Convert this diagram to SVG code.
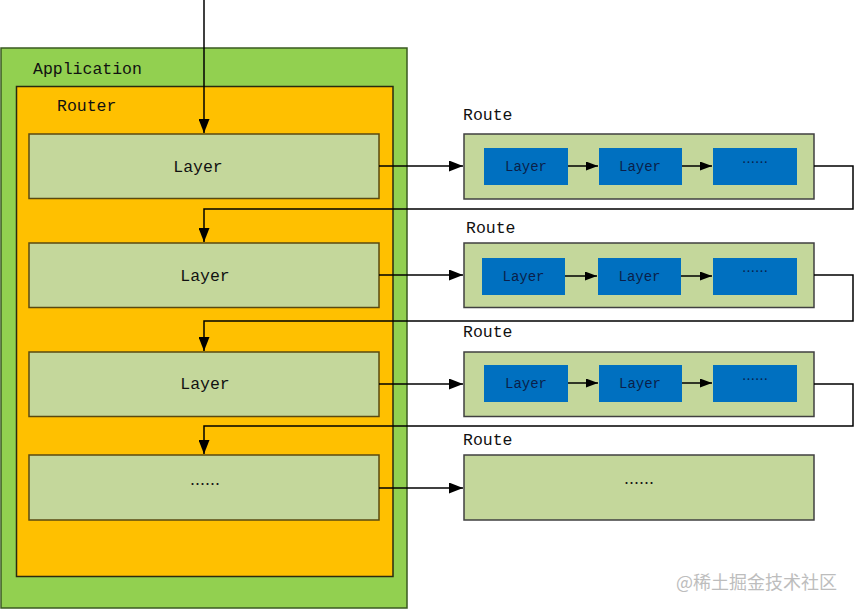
<svg xmlns="http://www.w3.org/2000/svg" width="855" height="610" viewBox="0 0 855 610">
<defs>
<marker id="ah" markerWidth="14" markerHeight="11" refX="14" refY="5.5" orient="auto" markerUnits="userSpaceOnUse">
<path d="M0,0 L14,5.5 L0,11 Z" fill="#000"/>
</marker>
<marker id="ahs" markerWidth="12" markerHeight="9" refX="12" refY="4.5" orient="auto" markerUnits="userSpaceOnUse">
<path d="M0,0 L12,4.5 L0,9 Z" fill="#000"/>
</marker>
<style>
.t{font-family:"Liberation Mono","DejaVu Sans Mono",monospace;font-size:16.5px;fill:#111}
.ts{font-family:"Liberation Mono","DejaVu Sans Mono",monospace;font-size:14px;fill:#0a1f4a}
.el{font-family:"Noto Sans CJK SC",sans-serif;font-size:15px;fill:#111}
.els{font-family:"Noto Sans CJK SC",sans-serif;font-size:13px;fill:#0a1f4a}
.layer{fill:#C4D79B;stroke:#5a4a10;stroke-width:1.5}
.route{fill:#C4D79B;stroke:#404040;stroke-width:1.5}
.blue{fill:#0070C0}
.c{fill:none;stroke:#000;stroke-width:1.5}
</style>
</defs>
<rect width="855" height="610" fill="#fff"/>
<g id="application">
<rect x="1" y="48" width="406" height="560" fill="#92D050" stroke="#3a5a20" stroke-width="1.5"/>
<text class="t" x="33" y="74">Application</text>
</g>
<g id="router">
<rect x="16.5" y="86.5" width="376.5" height="490" fill="#FFC000" stroke="#2a2a10" stroke-width="1.5"/>
<text class="t" x="57" y="111">Router</text>
</g>
<g id="layer1"><rect class="layer" x="29" y="134" width="350" height="64.5"/><text class="t" x="198" y="172" text-anchor="middle">Layer</text></g>
<g id="layer2"><rect class="layer" x="29" y="243" width="350" height="64.5"/><text class="t" x="205" y="281" text-anchor="middle">Layer</text></g>
<g id="layer3"><rect class="layer" x="29" y="352" width="350" height="64.5"/><text class="t" x="205" y="389" text-anchor="middle">Layer</text></g>
<g id="layer4"><rect class="layer" x="29" y="455" width="350" height="65"/><text class="el" x="205" y="490" text-anchor="middle">……</text></g>

<g id="route1">
<text class="t" x="463" y="120">Route</text>
<rect class="route" x="464" y="134" width="350" height="65"/>
<rect class="blue" x="484" y="148" width="84" height="37"/><text class="ts" x="526" y="171" text-anchor="middle">Layer</text>
<rect class="blue" x="599" y="148" width="83" height="37"/><text class="ts" x="640" y="171" text-anchor="middle">Layer</text>
<rect class="blue" x="713" y="148" width="84" height="37"/><text class="els" x="755" y="167" text-anchor="middle">……</text>
</g>
<g id="route2">
<text class="t" x="466" y="233">Route</text>
<rect class="route" x="464" y="243" width="350" height="64.5"/>
<rect class="blue" x="482" y="258" width="83" height="37"/><text class="ts" x="523.5" y="281" text-anchor="middle">Layer</text>
<rect class="blue" x="598" y="258" width="83" height="37"/><text class="ts" x="639.5" y="281" text-anchor="middle">Layer</text>
<rect class="blue" x="713" y="258" width="84" height="37"/><text class="els" x="755" y="276" text-anchor="middle">……</text>
</g>
<g id="route3">
<text class="t" x="463" y="337">Route</text>
<rect class="route" x="464" y="352" width="350" height="64.5"/>
<rect class="blue" x="484" y="365" width="84" height="37"/><text class="ts" x="526" y="388" text-anchor="middle">Layer</text>
<rect class="blue" x="599" y="365" width="83" height="37"/><text class="ts" x="640" y="388" text-anchor="middle">Layer</text>
<rect class="blue" x="713" y="365" width="84" height="37"/><text class="els" x="755" y="384" text-anchor="middle">……</text>
</g>
<g id="route4">
<text class="t" x="463" y="445">Route</text>
<rect class="route" x="464" y="455" width="350" height="65"/>
<text class="el" x="639" y="489" text-anchor="middle">……</text>
</g>

<g id="connectors">
<path class="c" d="M204,0 V133" marker-end="url(#ah)"/>
<path class="c" d="M379,166 H463" marker-end="url(#ah)"/>
<path class="c" d="M379,275 H463" marker-end="url(#ah)"/>
<path class="c" d="M379,384 H463" marker-end="url(#ah)"/>
<path class="c" d="M379,488 H463" marker-end="url(#ah)"/>
<path class="c" d="M814,166 H853 V209 H204 V242" marker-end="url(#ah)"/>
<path class="c" d="M814,275 H853 V321 H204 V351" marker-end="url(#ah)"/>
<path class="c" d="M814,384 H853 V426 H204 V454" marker-end="url(#ah)"/>
<path class="c" d="M568,166 H598" marker-end="url(#ahs)"/>
<path class="c" d="M682,166 H712" marker-end="url(#ahs)"/>
<path class="c" d="M565,276 H597" marker-end="url(#ahs)"/>
<path class="c" d="M681,276 H712" marker-end="url(#ahs)"/>
<path class="c" d="M568,383 H598" marker-end="url(#ahs)"/>
<path class="c" d="M682,383 H712" marker-end="url(#ahs)"/>
</g>
<text x="676" y="589" font-family="'Noto Sans CJK SC',sans-serif" font-size="18" fill="#bdbdbd">@稀土掘金技术社区</text>
</svg>
